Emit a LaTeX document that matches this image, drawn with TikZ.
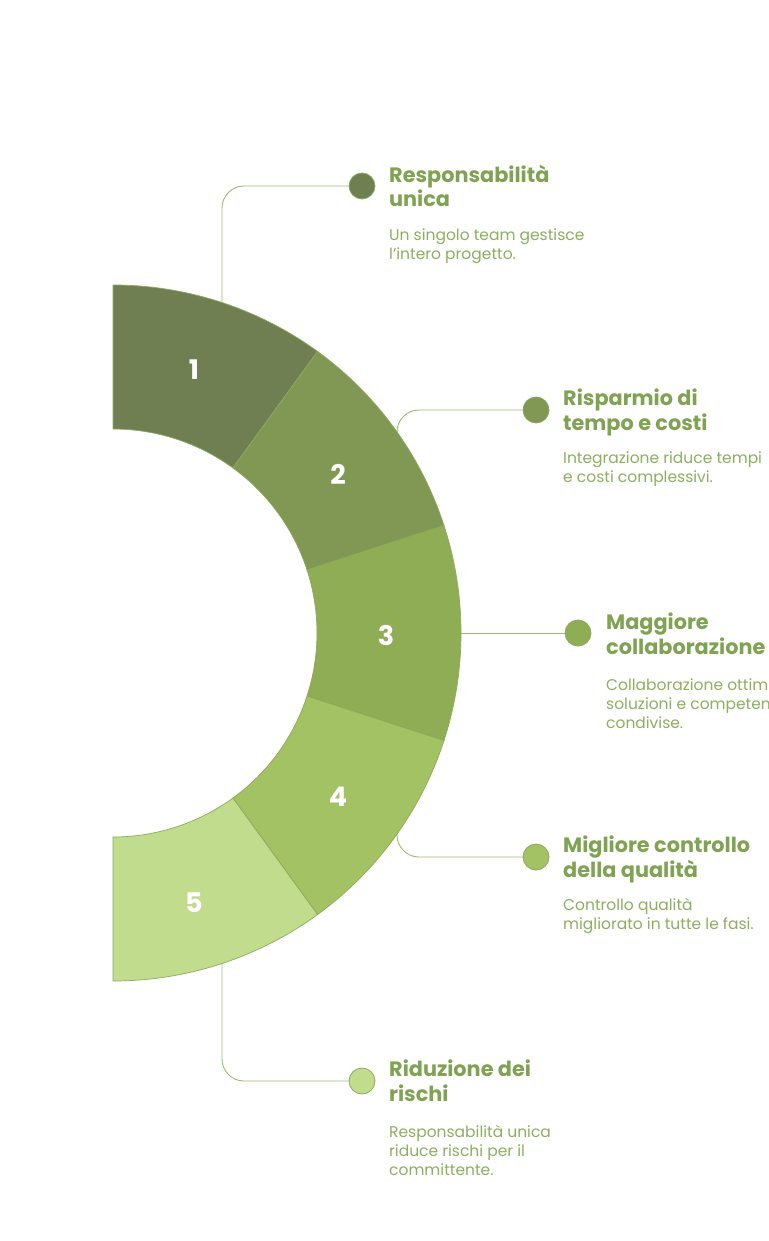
\documentclass[tikz,border=0pt]{standalone}
\usepackage{fontspec}
\setmainfont{Poppins}
\usetikzlibrary{calc}
\definecolor{c1}{HTML}{6F7F52}
\definecolor{c2}{HTML}{819754}
\definecolor{c3}{HTML}{8FAD55}
\definecolor{c4}{HTML}{A2C263}
\definecolor{c5}{HTML}{C2DC8E}
\definecolor{segline}{HTML}{8CAB5A}
\definecolor{conncol}{HTML}{9CBB72}
\definecolor{titlecol}{HTML}{7FA352}
\definecolor{bodycol}{HTML}{8DAE5F}
\tikzset{
  conn/.style={draw=conncol, line width=0.9, rounded corners=22},
  dot/.style={circle, minimum size=26, inner sep=0, draw=segline, line width=0.8},
  title/.style={anchor=base west, inner sep=0, align=left, text=titlecol, font=\fontsize{20.8}{24.5}\selectfont\bfseries},
  body/.style={anchor=base west, inner sep=0, align=left, text=bodycol, font=\fontsize{15.5}{19}\selectfont},
  num/.style={text=white, font=\fontsize{27}{30}\selectfont\bfseries, inner sep=0}
}
\begin{document}
\begin{tikzpicture}[x=1pt,y=-1pt]
\useasboundingbox (0,0) rectangle (768,1241);
\clip (0,0) rectangle (768,1241);
\fill[white] (0,0) rectangle (768,1241);
\coordinate (C) at (113,633);
% connectors (drawn beneath the ring)
\coordinate (s1) at (222,303);
\coordinate (s2) at (397,433);
\coordinate (s3) at (461,633);
\coordinate (s4) at (397,833);
\coordinate (s5) at (222,963);
\node[dot, fill=c1] (d1) at (362,186) {};
\node[dot, fill=c2] (d2) at (536,410) {};
\node[dot, fill=c3] (d3) at (578,633) {};
\node[dot, fill=c4] (d4) at (536,857) {};
\node[dot, fill=c5] (d5) at (362,1081) {};
\draw[conn] (s1) |- (d1.west);
\draw[conn] (s2) |- (d2.west);
\draw[conn] (s3) -- (d3.west);
\draw[conn] (s4) |- (d4.west);
\draw[conn] (s5) |- (d5.west);
% ring segments
\foreach \i/\col in {0/c1,1/c2,2/c3,3/c4,4/c5}{
  \pgfmathsetmacro\a{-90+36*\i}
  \pgfmathsetmacro\b{-54+36*\i}
  \fill[\col, draw=segline, line width=0.7]
    ($(C)+(\a:348)$) arc[start angle=\a, end angle=\b, radius=348]
    -- ($(C)+(\b:204)$) arc[start angle=\b, end angle=\a, radius=204] -- cycle;
}
\node[num] (n1) at (194,370) {1};
\node[num] (n2) at (338,474) {2};
\node[num] (n3) at (386,635) {3};
\node[num] (n4) at (338,797) {4};
\node[num] (n5) at (194,903) {5};
% texts (anchored at the baseline of the last line)
\node[title] (t1) at (389,207) {Responsabilità\\unica};
\node[body] (b1) at (389,259) {Un singolo team gestisce\\l'intero progetto.};
\node[title] (t2) at (563,430) {Risparmio di\\tempo e costi};
\node[body] (b2) at (563,482) {Integrazione riduce tempi\\e costi complessivi.};
\node[title] (t3) at (606,654) {Maggiore\\collaborazione};
\node[body] (b3) at (606,728) {Collaborazione ottimizza\\soluzioni e competenze\\condivise.};
\node[title] (t4) at (563,877) {Migliore controllo\\della qualità};
\node[body] (b4) at (563,929) {Controllo qualità\\migliorato in tutte le fasi.};
\node[title] (t5) at (389,1101) {Riduzione dei\\rischi};
\node[body] (b5) at (389,1175) {Responsabilità unica\\riduce rischi per il\\committente.};
\end{tikzpicture}
\end{document}
